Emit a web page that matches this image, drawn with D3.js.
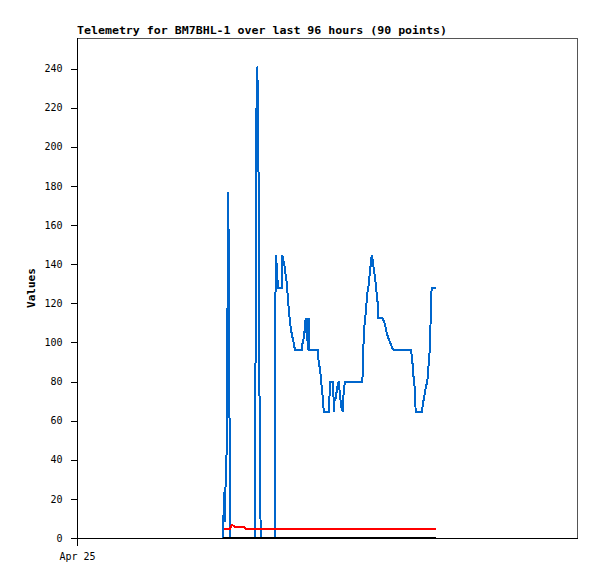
<!DOCTYPE html>
<html>
<head>
<meta charset="utf-8">
<script src="https://cdn.jsdelivr.net/npm/d3@7/dist/d3.min.js"></script>
<style>
  html, body { margin: 0; padding: 0; background: #fff; }
  svg { display: block; }
  text { font-family: "DejaVu Sans Mono", "Liberation Mono", monospace; }
</style>
</head>
<body>
<script>
// ---- data (hours since Apr 25 00:00) ----
const titleText = "Telemetry for BM7BHL-1 over last 96 hours (90 points)";
const yLabel = "Values";
const xTickHours = [0];
const xTickLabels = ["Apr 25"];
const yTicks = [0, 20, 40, 60, 80, 100, 120, 140, 160, 180, 200, 220, 240];

const blueHours = [28.03, 28.09, 28.28, 28.42, 28.55, 28.74, 28.93, 29.05, 29.24, 29.38,
  31.30, 33.22, 34.18, 34.31, 34.50, 34.69, 34.81, 34.89, 35.08, 35.27,
  36.10, 37.06, 37.96, 38.02, 38.15, 38.30, 38.46, 38.65, 39.30, 39.42,
  39.61, 39.80, 39.94, 40.13, 40.32, 40.45, 40.70, 40.90, 41.09, 41.34,
  41.61, 41.86, 43.14, 43.26, 43.45, 43.64, 43.78, 43.91, 44.03, 44.16,
  44.30, 44.49, 44.60, 46.21, 46.33, 46.52, 46.71, 46.85, 47.04, 47.23,
  47.37, 48.44, 48.52, 49.21, 49.29, 49.48, 49.67, 49.86, 50.05, 50.24,
  50.43, 50.63, 50.82, 51.01, 51.21, 51.46, 54.78, 54.91, 55.05, 55.30,
  55.49, 55.68, 55.93, 56.12, 56.31, 56.45, 56.58, 56.77, 56.97, 57.16,
  57.35, 57.54, 57.73, 57.85, 58.69, 58.89, 59.14, 59.33, 59.58, 59.81,
  60.04, 60.29, 60.54, 60.81, 64.13, 64.26, 64.45, 64.57, 64.76, 64.90,
  65.03, 66.18, 66.30, 66.49, 66.68, 66.87, 67.07, 67.26, 67.45, 67.64,
  67.83, 67.97, 68.10, 68.87];
const blueValues = [0, 8.2, 23.7, 8, 32, 44.5, 132, 177, 88, 0,
  0, 0, 0, 120.8, 241, 232.6, 216, 156.6, 51.8, 0,
  0, 0, 0, 72.2, 144.7, 140.6, 133, 128, 128, 144.7,
  142, 139.6, 137, 132.8, 129.7, 124, 115.7, 110.6, 106.3, 103,
  99.5, 96.1, 96.1, 99, 101.2, 104.6, 108, 112.3, 105, 112.3,
  96.1, 112.3, 96.1, 96.1, 91.9, 88.4, 85, 81.6, 74.8, 71.4,
  64.6, 64.6, 80, 80, 64.6, 71.4, 71.4, 75, 78, 80,
  75, 69.5, 66, 64.6, 75, 80, 80, 87.6, 103.8, 112.3,
  115.7, 124.2, 128, 132.8, 137.9, 140.6, 144.7, 142, 137.9, 134.5,
  130.2, 125.1, 120, 112.3, 112.3, 111, 109, 106.4, 103.8, 102,
  100.4, 98.7, 97, 96.1, 96.1, 93.5, 88.4, 83.3, 80, 72.2,
  64.6, 64.6, 66.3, 69.7, 72.2, 75.6, 78.2, 80, 86.8, 92,
  103.8, 120, 128, 128];

const redHours = [28.22, 29.38, 29.57, 29.76, 30.05, 30.34, 32.06, 32.35, 68.93];
const redValues = [4.6, 4.6, 6.0, 6.8, 6.2, 5.6, 5.6, 4.6, 4.6];

const blackHours = [28.03, 68.93];
const blackValues = [0, 0];

// ---- layout ----
const W = 597, H = 579;
const mLeft = 77, mRight = 577, mTop = 38, mBottom = 538;

const svg = d3.select("body").append("svg").attr("width", W).attr("height", H);

const x = d3.scaleLinear().domain([0, 96]).range([mLeft, mRight]);
const y = d3.scaleLinear().domain([0, 255.6]).range([mBottom, mTop]);

// frame (top/right gray)
svg.append("path")
  .attr("d", `M${mLeft + 0.5},${mTop + 0.5}H${mRight + 0.5}V${mBottom + 0.5}`)
  .attr("fill", "none").attr("stroke", "#555").attr("stroke-width", 1)
  .attr("shape-rendering", "crispEdges");

// y axis
const yAxis = d3.axisLeft(y).tickValues(yTicks).tickSize(7).tickSizeOuter(0).tickPadding(8);
const gy = svg.append("g").attr("transform", `translate(${mLeft + 0.5},0)`).call(yAxis);
gy.select(".domain").remove();
gy.selectAll(".tick line").attr("stroke", "#000").attr("shape-rendering", "crispEdges");
gy.selectAll(".tick text").attr("font-size", "10px").attr("fill", "#000")
  .style("font-family", "'DejaVu Sans Mono', monospace");

// x axis
const xAxis = d3.axisBottom(x).tickValues(xTickHours).tickFormat((d, i) => xTickLabels[i])
  .tickSize(7).tickSizeOuter(0).tickPadding(7);
const gx = svg.append("g").attr("transform", `translate(0,${mBottom + 0.5})`).call(xAxis);
gx.select(".domain").remove();
gx.selectAll(".tick line").attr("stroke", "#000").attr("shape-rendering", "crispEdges");
gx.selectAll(".tick text").attr("font-size", "10px").attr("fill", "#000")
  .style("font-family", "'DejaVu Sans Mono', monospace");

// axis lines
svg.append("line").attr("x1", mLeft + 0.5).attr("x2", mLeft + 0.5).attr("y1", mTop).attr("y2", mBottom + 1)
  .attr("stroke", "#000").attr("shape-rendering", "crispEdges");
svg.append("line").attr("x1", mLeft).attr("x2", mRight + 1).attr("y1", mBottom + 0.5).attr("y2", mBottom + 0.5)
  .attr("stroke", "#000").attr("shape-rendering", "crispEdges");

// series
function drawSeries(hours, values, color, width) {
  const pts = hours.map((h, i) => [h, values[i]]);
  const line = d3.line().x(d => x(d[0])).y(d => y(d[1]));
  svg.append("path").datum(pts)
    .attr("d", line)
    .attr("fill", "none")
    .attr("stroke", color)
    .attr("stroke-width", width)
    .attr("stroke-linejoin", "miter")
    .attr("shape-rendering", "crispEdges");
}
drawSeries(blueHours, blueValues, "#0066cc", 2);
drawSeries(redHours, redValues, "#ff0000", 2);
drawSeries(blackHours, blackValues, "#000000", 2);

// title
svg.append("text")
  .attr("x", mLeft).attr("y", 34)
  .attr("font-size", "11px").attr("font-weight", "bold")
  .attr("textLength", 370).attr("lengthAdjust", "spacingAndGlyphs")
  .text(titleText);

// y label
svg.append("text")
  .attr("transform", `translate(35,${(mTop + mBottom) / 2}) rotate(-90)`)
  .attr("text-anchor", "middle")
  .attr("font-size", "11px").attr("font-weight", "bold")
  .text(yLabel);
</script>
</body>
</html>
